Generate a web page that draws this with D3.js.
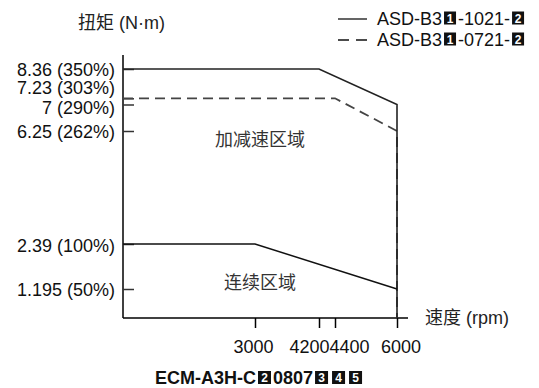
<!DOCTYPE html>
<html>
<head>
<meta charset="utf-8">
<script src="https://cdn.jsdelivr.net/npm/d3@7"></script>
<style>
  html, body { margin: 0; padding: 0; background: #fff; }
  svg { display: block; }
  text { font-family: "Liberation Sans", Arial, "Noto Sans CJK SC", sans-serif; }
</style>
</head>
<body>
<svg id="chart" width="539" height="388"></svg>
<script>
// Torque–speed characteristic of ECM-A3H servo motor
const speedTicks = [3000, 4200, 4400, 6000];
const speedTickLabels = ["3000", "4200", "4400", "6000"];
const torqueTicks = [8.36, 7.23, 7, 6.25, 2.39, 1.195];
const torqueTickLabels = ["8.36 (350%)", "7.23 (303%)", "7 (290%)", "6.25 (262%)", "2.39 (100%)", "1.195 (50%)"];

// Peak curve with ASD-B3□-1021-□ drive (solid)
const peak1021Speed = [0, 4200, 6000, 6000];
const peak1021Torque = [8.36, 8.36, 7, 0];
// Peak curve with ASD-B3□-0721-□ drive (dashed)
const peak0721Speed = [0, 4400, 6000, 6000];
const peak0721Torque = [7.23, 7.23, 6.25, 0];
// Continuous (rated) curve
const contSpeed = [0, 3000, 6000];
const contTorque = [2.39, 2.39, 1.195];

const svg = d3.select("#chart");
const FS = 18;
const FONT_LATIN = '"Liberation Sans", Arial, sans-serif';
const FONT_CJK = '"Noto Sans CJK SC", "Liberation Sans", sans-serif';

// Break-point scales: the axes are not drawn to a uniform scale
const x = d3.scaleLinear()
  .domain([0, 3000, 4200, 4400, 6000])
  .range([123, 255, 319, 335, 397]);
const y = d3.scaleLinear()
  .domain([0, 1.195, 2.39, 6.25, 7, 7.23, 8.36])
  .range([318, 289, 244, 131, 104.5, 98.3, 69]);

// Axes lines
svg.append("line")
  .attr("x1", x(0)).attr("x2", x(0))
  .attr("y1", y(0)).attr("y2", y(8.36) - 14)
  .attr("stroke", "#000").attr("stroke-width", 1.5);
svg.append("line")
  .attr("x1", x(0)).attr("x2", x(6000) + 11)
  .attr("y1", y(0)).attr("y2", y(0))
  .attr("stroke", "#000").attr("stroke-width", 1.5);

// X axis ticks & labels
const xLabelShift = [-2, -10, 14, 3.5];
const xAxis = svg.append("g")
  .attr("transform", `translate(0,${y(0)})`)
  .call(d3.axisBottom(x).tickValues(speedTicks).tickSizeInner(10).tickSizeOuter(0).tickPadding(12)
    .tickFormat((d, i) => speedTickLabels[i]));
xAxis.select(".domain").remove();
xAxis.selectAll(".tick line").attr("stroke", "#000").attr("stroke-width", 1.5);
xAxis.selectAll(".tick text")
  .attr("font-size", FS).attr("fill", "#111")
  .attr("font-family", FONT_LATIN)
  .attr("dx", (d, i) => xLabelShift[i]);

// Y axis ticks (drawn inward) & labels
const yLabelShift = [0, -11, 2.5, 0, 1, 0];
const yAxis = svg.append("g")
  .attr("transform", `translate(${x(0)},0)`)
  .call(d3.axisLeft(y).tickValues(torqueTicks).tickSizeInner(-11).tickSizeOuter(0).tickPadding(8)
    .tickFormat((d, i) => torqueTickLabels[i]));
yAxis.select(".domain").remove();
yAxis.selectAll(".tick line").attr("stroke", "#333").attr("stroke-width", 1.5);
yAxis.selectAll(".tick text")
  .attr("font-size", FS).attr("fill", "#111")
  .attr("font-family", FONT_LATIN)
  .attr("dy", (d, i) => (yLabelShift[i] + 6.4) + "px");

// Curves
const line = d3.line().x(d => x(d[0])).y(d => y(d[1]));
const zip = (a, b) => a.map((v, i) => [v, b[i]]);

svg.append("path")
  .datum(zip(peak0721Speed, peak0721Torque))
  .attr("d", line).attr("fill", "none")
  .attr("stroke", "#444").attr("stroke-width", 1.8)
  .attr("stroke-dasharray", "10,6");
svg.append("path")
  .datum(zip(peak1021Speed, peak1021Torque))
  .attr("d", line).attr("fill", "none")
  .attr("stroke", "#222").attr("stroke-width", 1.6);
svg.append("path")
  .datum(zip(contSpeed, contTorque))
  .attr("d", line).attr("fill", "none")
  .attr("stroke", "#111").attr("stroke-width", 1.5);

// Region labels
const midX = (x(0) + x(6000)) / 2;
svg.append("text")
  .attr("x", midX).attr("y", y(6.25) + 15)
  .attr("text-anchor", "middle").attr("font-size", FS).attr("fill", "#333")
  .style("font-family", FONT_CJK)
  .text("加减速区域");
svg.append("text")
  .attr("x", midX).attr("y", y(1.195))
  .attr("text-anchor", "middle").attr("font-size", FS).attr("fill", "#333")
  .style("font-family", FONT_CJK)
  .text("连续区域");

// Axis titles: CJK part plus Latin unit part
function axisTitle(xp, yp, cjk, unit) {
  const t = svg.append("text")
    .attr("x", xp).attr("y", yp)
    .attr("font-size", FS).attr("fill", "#222");
  t.append("tspan").style("font-family", FONT_CJK).text(cjk);
  t.append("tspan").style("font-family", FONT_LATIN).text(unit);
}
axisTitle(78, 29, "扭矩", " (N·m)");
axisTitle(x(6000) + 28, y(0) + 6, "速度", " (rpm)");

// Text run containing boxed placeholder digits
function boxedRun(g, x0, base, size, segments, weight, boxW, boxH, gap) {
  let cx = x0;
  segments.forEach(s => {
    if (s.box) {
      cx += gap;
      g.append("rect")
        .attr("x", cx).attr("y", base - boxH).attr("width", boxW).attr("height", boxH)
        .attr("fill", "#111");
      g.append("text")
        .attr("x", cx + boxW / 2).attr("y", base - boxH * 0.13)
        .attr("text-anchor", "middle")
        .attr("font-size", boxH * 0.92).attr("font-weight", "bold").attr("fill", "#fff")
        .style("font-family", FONT_LATIN)
        .text(s.box);
      cx += boxW + gap;
    } else {
      const t = g.append("text")
        .attr("x", cx).attr("y", base)
        .attr("font-size", size).attr("font-weight", weight).attr("fill", "#111")
        .style("font-family", FONT_LATIN)
        .text(s.t);
      cx += t.node().getComputedTextLength();
    }
  });
}

// Legend
const legend = svg.append("g");
const legendRows = [
  { dash: null, segs: [{ t: "ASD-B3" }, { box: "1" }, { t: "-1021-" }, { box: "2" }] },
  { dash: "11,7", segs: [{ t: "ASD-B3" }, { box: "1" }, { t: "-0721-" }, { box: "2" }] }
];
legendRows.forEach((r, i) => {
  const ly = 19 + i * 21;
  legend.append("line")
    .attr("x1", 338).attr("x2", 367).attr("y1", ly).attr("y2", ly)
    .attr("stroke", "#111").attr("stroke-width", 1.3)
    .attr("stroke-dasharray", r.dash);
  boxedRun(legend, 377, ly + 5.5, FS, r.segs, "normal", 12, 13, 2);
});

// Model caption
boxedRun(svg.append("g"), 155, 384, 18,
  [{ t: "ECM-A3H-C" }, { box: "2" }, { t: "0807" }, { box: "3" }, { box: "4" }, { box: "5" }],
  "bold", 13, 13, 2);
</script>
</body>
</html>
